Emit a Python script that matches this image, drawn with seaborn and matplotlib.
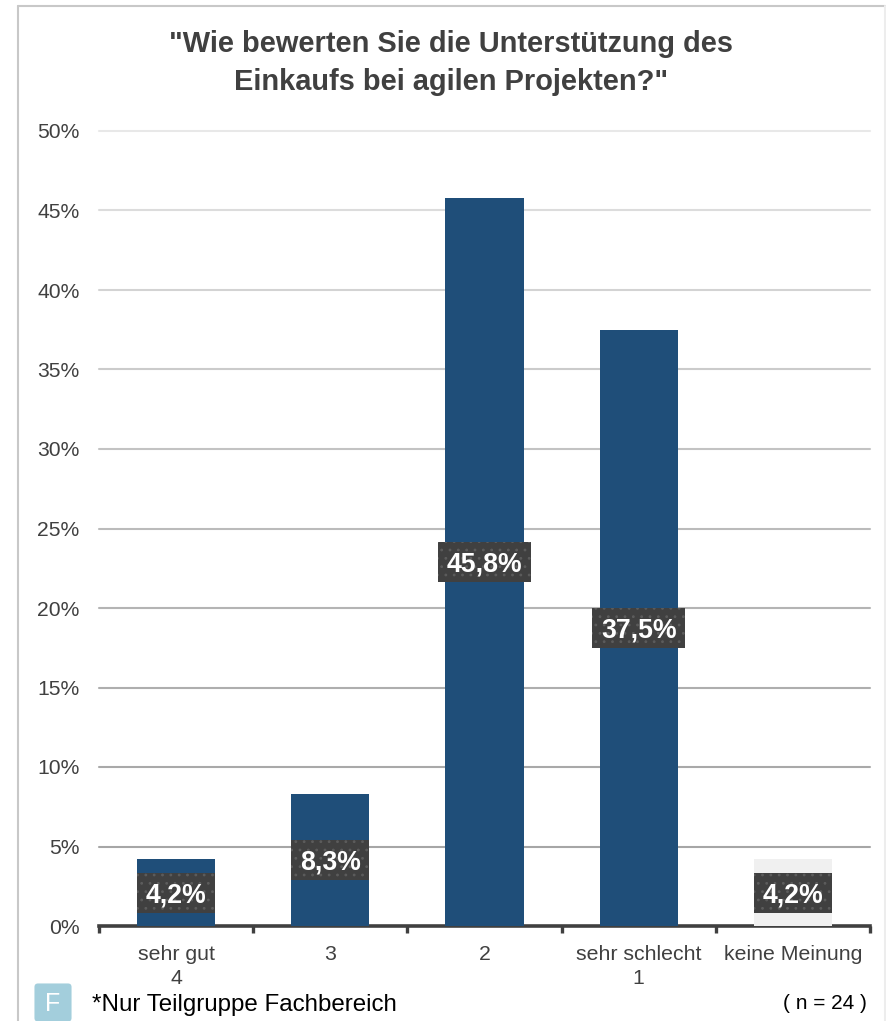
import numpy as np
import pandas as pd
import matplotlib
matplotlib.use("Agg")
import matplotlib.pyplot as plt
from matplotlib.patches import Rectangle, FancyBboxPatch
from matplotlib.lines import Line2D
import seaborn as sns

categories = ["sehr gut\n4", "3", "2", "sehr schlecht\n1", "keine Meinung"]
values = [4.2, 8.3, 45.8, 37.5, 4.2]
bar_colors = ["#1F4E79", "#1F4E79", "#1F4E79", "#1F4E79", "#F0F0F0"]
value_labels = ["4,2%", "8,3%", "45,8%", "37,5%", "4,2%"]
label_box_widths = [0.506, 0.506, 0.60, 0.60, 0.506]
y_ticks = [0, 5, 10, 15, 20, 25, 30, 35, 40, 45, 50]
y_tick_labels = ["0%", "5%", "10%", "15%", "20%", "25%", "30%", "35%", "40%", "45%", "50%"]
grid_colors = ["#404040", "#A6A6A6", "#A9A9A9", "#AEAEAE", "#B4B4B4", "#BBBBBB",
               "#C3C3C3", "#CBCBCB", "#D3D3D3", "#DCDCDC", "#E8E8E8"]
title = "\"Wie bewerten Sie die Unterstützung des\nEinkaufs bei agilen Projekten?\""
note = "*Nur Teilgruppe Fachbereich"
sample = "( n = 24 )"

W, H = 886, 1021
sns.set_theme(style="white")
plt.rcParams["font.family"] = ["Liberation Sans", "DejaVu Sans"]
plt.rcParams["hatch.linewidth"] = 0.8

fig = plt.figure(figsize=(W / 100, H / 100), dpi=100, facecolor="white")
ax = fig.add_axes([99 / W, 1 - 926 / H, (870 - 99) / W, (926 - 131) / H])
ax.set_zorder(2)
ax.patch.set_visible(False)

df = pd.DataFrame({"cat": categories, "val": values})
sns.barplot(data=df, x="cat", y="val", hue="cat", palette=bar_colors, width=0.506,
            saturation=1, legend=False, ax=ax, zorder=3, linewidth=0, edgecolor="none")
ax.set_xlim(-0.5, 4.5)
ax.set_ylim(0, 50)
ax.set_xlabel("")
ax.set_ylabel("")

for t, c in zip(y_ticks[1:], grid_colors[1:]):
    ax.axhline(t, color=c, lw=1.5, zorder=1, clip_on=False)

ax.set_yticks(y_ticks, y_tick_labels)
ax.tick_params(axis="y", length=0, pad=14, labelsize=15.2, labelcolor="#404040")
ax.set_xticks(range(len(categories)), categories)
ax.tick_params(axis="x", which="major", length=0, pad=14, labelsize=15.3, labelcolor="#404040")
ax.set_xticks(np.arange(-0.5, 5), minor=True)
ax.tick_params(axis="x", which="minor", length=5, width=2.4, color="#404040", bottom=True)
for lab in ax.get_xticklabels():
    lab.set_linespacing(1.3)
for s in ["top", "right", "left"]:
    ax.spines[s].set_visible(False)
ax.spines["bottom"].set_color("#404040")
ax.spines["bottom"].set_linewidth(2.6)

box_h = 40 / (926 - 131) * 50
for i, (v, lab, bw) in enumerate(zip(values, value_labels, label_box_widths)):
    ax.add_patch(Rectangle((i - bw / 2, v / 2 - box_h / 2), bw, box_h, facecolor="#404040",
                           edgecolor="#5C5C5C", hatch="..", lw=0, zorder=4))
    ax.text(i, v / 2 + 0.03, lab, ha="center", va="center_baseline", color="white",
            fontsize=19.2, fontweight="bold", zorder=5)

fig.text(451 / W, 1 - 63 / H, title, ha="center", va="center", fontsize=20.9, fontweight="bold",
         color="#404040", linespacing=1.5)

for x0, y0, x1, y1, c in [(18, 6, 18, H, "#C8C8C8"), (18, 6, 885, 6, "#C8C8C8"), (885, 6, 885, H, "#EDEDED")]:
    fig.add_artist(Line2D([x0 / W, x1 / W], [1 - y0 / H, 1 - y1 / H], color=c, lw=1.5))

fig.add_artist(FancyBboxPatch((38 / W, 1 - 1018 / H), 30 / W, 31 / H,
                              boxstyle="round,pad=0.004", mutation_aspect=W / H,
                              facecolor="#A3CEDC", edgecolor="none", transform=fig.transFigure))
fig.text(53 / W, 1 - 1003.5 / H, "F", ha="center", va="center", color="white", fontsize=18)
fig.text(92 / W, 1 - 1004.5 / H, note, ha="left", va="center", color="black", fontsize=17.4)
fig.text(867 / W, 1 - 1003 / H, sample, ha="right", va="center", color="black", fontsize=15)

fig.savefig("out.png", dpi=100)
